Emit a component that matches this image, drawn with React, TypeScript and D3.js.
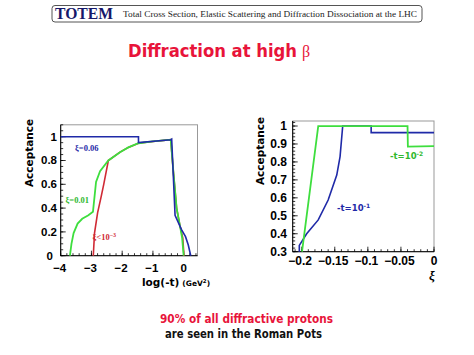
import React from "react";
import * as d3 from "d3";

// ---------- Data ----------
// Left panel: acceptance vs log10(-t)
const xi006: [number, number][] = [
  [-4, 1], [-1.47, 1], [-1.47, 0.95], [-0.42, 0.975], [-0.39, 0.98], [-0.28, 0.34],
  [-0.07, 0.22], [0.06, 0.16], [0.15, 0.09], [0.23, 0],
];
const xi001: [number, number][] = [
  [-3.7, 0], [-3.65, 0.1], [-3.58, 0.19], [-3.45, 0.27], [-3.3, 0.31], [-3.1, 0.34],
  [-2.95, 0.37], [-2.85, 0.62], [-2.72, 0.71], [-2.45, 0.8], [-2.07, 0.87], [-1.8, 0.91],
  [-1.47, 0.945], [-1.0, 0.96], [-0.42, 0.975], [-0.34, 0.72], [-0.23, 0.4],
  [-0.12, 0.25], [-0.05, 0.15], [0, 0],
];
const xi0001: [number, number][] = [
  [-2.94, 0], [-2.9, 0.19], [-2.8, 0.36], [-2.68, 0.5], [-2.6, 0.6], [-2.45, 0.8],
  [-2.07, 0.87], [-1.8, 0.91], [-1.47, 0.945], [-1.0, 0.96], [-0.42, 0.975],
  [-0.34, 0.72], [-0.23, 0.4], [-0.12, 0.25], [-0.03, 0.15], [0.01, 0],
];
const leftXTicks = [-4, -3, -2, -1, 0];
const leftXLabels = ["\u22124", "\u22123", "\u22122", "\u22121", "0"];
const leftYTicks = [0, 0.2, 0.4, 0.6, 0.8, 1];
const leftYLabels = ["0", "0.2", "0.4", "0.6", "0.8", "1"];

// Right panel: acceptance vs xi
const t01: [number, number][] = [
  [-0.2036, 0.3], [-0.2036, 0.335], [-0.1925, 0.4], [-0.175, 0.477], [-0.16, 0.588],
  [-0.147, 0.727], [-0.142, 0.83], [-0.138, 1.0], [-0.095, 1.0], [-0.095, 0.963], [0, 0.963],
];
const t001: [number, number][] = [
  [-0.1995, 0.3], [-0.175, 1.0], [-0.04, 1.0], [-0.0395, 0.885], [0, 0.888],
];
const rightXTicks = [-0.2, -0.15, -0.1, -0.05, 0];
const rightXLabels = ["\u22120.2", "\u22120.15", "\u22120.1", "\u22120.05", "0"];
const rightYTicks = [0.3, 0.4, 0.5, 0.6, 0.7, 0.8, 0.9, 1];
const rightYLabels = ["0.3", "0.4", "0.5", "0.6", "0.7", "0.8", "0.9", "1"];

const BLUE = "#1f2aa8";
const GREEN = "#3ede3e";
const RED = "#d02a35";
const TITLE_RED = "#e8143a";
const SANS = "'DejaVu Sans', Arial, sans-serif";
const ARIAL = "'Liberation Sans', Arial, sans-serif";
const SERIF = "'Liberation Serif', 'Times New Roman', serif";

function range(a: number, b: number, step: number) {
  const out: number[] = [];
  const n = Math.round((b - a) / step);
  for (let i = 0; i <= n; i++) out.push(+(a + i * step).toFixed(6));
  return out;
}

export default function App() {
  // left scales
  const lx = d3.scaleLinear().domain([-4, 0.45]).range([60.7, 197.5]);
  const ly = d3.scaleLinear().domain([0, 1.1]).range([255.7, 124.8]);
  // right scales
  const rx = d3.scaleLinear().domain([-0.2136, 0]).range([292.7, 434]);
  const ry = d3.scaleLinear().domain([0.3, 1.028]).range([251.7, 121]);

  const lline = d3.line<[number, number]>().x((d) => lx(d[0])).y((d) => ly(d[1]));
  const rline = d3.line<[number, number]>().x((d) => rx(d[0])).y((d) => ry(d[1]));

  const lxMinor = range(-4, 0.4, 0.2);
  const lyMinor = range(0, 1.1, 0.05);
  const rxMinor = range(-0.21, 0, 0.01);
  const ryMinor = range(0.3, 1.02, 0.02);

  const [lx0, lx1] = lx.range();
  const [ly0, ly1] = ly.range();
  const [rx0, rx1] = rx.range();
  const [ry0, ry1] = ry.range();

  return (
    <svg width={474} height={355} style={{ position: "absolute", left: 0, top: 0, background: "#fff" }}>
      {/* Header */}
      <rect x={52} y={5.5} width={370} height={16.5} rx={3} fill="#fff" stroke="#555" strokeWidth={1} />
      <text x={55} y={19} fontFamily={SERIF} fontWeight="bold" fontSize={17.5} fill="#16186a"
        textLength={58} lengthAdjust="spacingAndGlyphs">TOTEM</text>
      <text x={123} y={17.3} fontFamily={SERIF} fontSize={9} fill="#222"
        textLength={294} lengthAdjust="spacingAndGlyphs">
        Total Cross Section, Elastic Scattering and Diffraction Dissociation at the LHC
      </text>

      {/* Title */}
      <text x={128} y={56.5} fontFamily={SANS} fontWeight="bold" fontSize={17} fill={TITLE_RED}
        textLength={169} lengthAdjust="spacingAndGlyphs">Diffraction at high</text>
      <text x={302} y={56.5} fontFamily={SERIF} fontSize={16} fill={TITLE_RED}>β</text>

      {/* ---------- Left panel ---------- */}
      <g>
        <rect x={lx0} y={ly1} width={lx1 - lx0} height={ly0 - ly1} fill="none" stroke="#999" strokeWidth={1} />
        {lxMinor.map((v, i) => (
          <line key={"lxm" + i} x1={lx(v)} x2={lx(v)} y1={ly0} y2={ly0 - 2.5} stroke="#000" strokeWidth={0.8} />
        ))}
        {leftXTicks.map((v, i) => (
          <line key={"lxM" + i} x1={lx(v)} x2={lx(v)} y1={ly0} y2={ly0 - 5} stroke="#000" strokeWidth={0.8} />
        ))}
        {lyMinor.map((v, i) => (
          <line key={"lym" + i} x1={lx0} x2={lx0 + 2.5} y1={ly(v)} y2={ly(v)} stroke="#000" strokeWidth={0.8} />
        ))}
        {leftYTicks.map((v, i) => (
          <line key={"lyM" + i} x1={lx0} x2={lx0 + 5} y1={ly(v)} y2={ly(v)} stroke="#000" strokeWidth={0.8} />
        ))}
        <line x1={lx0} x2={lx1} y1={ly0} y2={ly0} stroke="#000" strokeWidth={1} />
        <line x1={lx0} x2={lx0} y1={ly0} y2={ly1} stroke="#000" strokeWidth={1} />
        {leftXTicks.map((v, i) => (
          <text key={"lxl" + i} x={lx(v) - (v < 0 ? 1 : 0)} y={271.5} textAnchor="middle" fontFamily={ARIAL}
            fontWeight="bold" fontSize={11.5} fill="#000">{leftXLabels[i]}</text>
        ))}
        {leftYTicks.map((v, i) => (
          <text key={"lyl" + i} x={v === 0 ? 53 : 57} y={ly(v) + 3.8} textAnchor="end" fontFamily={ARIAL}
            fontWeight="bold" fontSize={11.5} fill="#000">{leftYLabels[i]}</text>
        ))}
        <text transform="translate(33,153) rotate(-90)" textAnchor="middle" fontFamily={SANS}
          fontWeight="bold" fontSize={10.5} fill="#000">Acceptance</text>
        <text x={142} y={286} fontFamily={SANS} fontWeight="bold" fontSize={10.5} fill="#000">
          log(-t)
          <tspan fontSize={7.5} dx={3}>(GeV</tspan>
          <tspan fontSize={5.5} dy={-3}>2</tspan>
          <tspan fontSize={7.5} dy={3}>)</tspan>
        </text>

        <path d={lline(xi0001) ?? ""} fill="none" stroke={RED} strokeWidth={1.6} />
        <path d={lline(xi001) ?? ""} fill="none" stroke={GREEN} strokeWidth={1.8} />
        <path d={lline(xi006) ?? ""} fill="none" stroke={BLUE} strokeWidth={1.6} />

        <text x={75} y={151} fontFamily={SERIF} fontWeight="bold" fontSize={8.5} fill={BLUE}>ξ=0.06</text>
        <text x={65.5} y={203} fontFamily={SERIF} fontWeight="bold" fontSize={8.5} fill={"#2fb82f"}>ξ=0.01</text>
        <text x={92.5} y={240} fontFamily={SERIF} fontWeight="bold" fontSize={8.5} fill={RED}>
          ξ&lt;10<tspan fontSize={6} dy={-3}>−3</tspan>
        </text>
      </g>

      {/* ---------- Right panel ---------- */}
      <g>
        <rect x={rx0} y={ry1} width={rx1 - rx0} height={ry0 - ry1} fill="none" stroke="#999" strokeWidth={1} />
        {rxMinor.map((v, i) => (
          <line key={"rxm" + i} x1={rx(v)} x2={rx(v)} y1={ry0} y2={ry0 - 2.5} stroke="#000" strokeWidth={0.8} />
        ))}
        {rightXTicks.map((v, i) => (
          <line key={"rxM" + i} x1={rx(v)} x2={rx(v)} y1={ry0} y2={ry0 - 5} stroke="#000" strokeWidth={0.8} />
        ))}
        {ryMinor.map((v, i) => (
          <line key={"rym" + i} x1={rx0} x2={rx0 + 2.5} y1={ry(v)} y2={ry(v)} stroke="#000" strokeWidth={0.8} />
        ))}
        {rightYTicks.map((v, i) => (
          <line key={"ryM" + i} x1={rx0} x2={rx0 + 5} y1={ry(v)} y2={ry(v)} stroke="#000" strokeWidth={0.8} />
        ))}
        <line x1={rx0} x2={rx1} y1={ry0} y2={ry0} stroke="#000" strokeWidth={1} />
        <line x1={rx0} x2={rx0} y1={ry0} y2={ry1} stroke="#000" strokeWidth={1} />
        {rightXTicks.map((v, i) => (
          <text key={"rxl" + i} x={rx(v) - (v < 0 ? 1.5 : 0)} y={264.5} textAnchor="middle" fontFamily={ARIAL}
            fontWeight="bold" fontSize={12} fill="#000">{rightXLabels[i]}</text>
        ))}
        {rightYTicks.map((v, i) => (
          <text key={"ryl" + i} x={287} y={ry(v) + 4.3} textAnchor="end" fontFamily={ARIAL}
            fontWeight="bold" fontSize={12} fill="#000">{rightYLabels[i]}</text>
        ))}
        <text transform="translate(264,151) rotate(-90)" textAnchor="middle" fontFamily={SANS}
          fontWeight="bold" fontSize={10.5} fill="#000">Acceptance</text>
        <text x={432} y={280} textAnchor="middle" fontFamily={SERIF} fontWeight="bold" fontStyle="italic"
          fontSize={13} fill="#000">ξ</text>

        <path d={rline(t01) ?? ""} fill="none" stroke={BLUE} strokeWidth={1.6} />
        <path d={rline(t001) ?? ""} fill="none" stroke={GREEN} strokeWidth={1.8} />

        <text x={390} y={159} fontFamily={SANS} fontWeight="bold" fontSize={8.5} fill={"#2fb82f"}>
          -t=10<tspan fontSize={6} dy={-3}>-2</tspan>
        </text>
        <text x={337} y={211} fontFamily={SANS} fontWeight="bold" fontSize={8.5} fill={BLUE}>
          -t=10<tspan fontSize={6} dy={-3}>-1</tspan>
        </text>
      </g>

      {/* Bottom text */}
      <text x={160} y={323} fontFamily={SANS} fontWeight="bold" fontSize={11.5} fill={TITLE_RED}
        textLength={173} lengthAdjust="spacingAndGlyphs">90% of all diffractive protons</text>
      <text x={165} y={337.5} fontFamily={SANS} fontWeight="bold" fontSize={11.5} fill="#111"
        textLength={157} lengthAdjust="spacingAndGlyphs">are seen in the Roman Pots</text>
    </svg>
  );
}
